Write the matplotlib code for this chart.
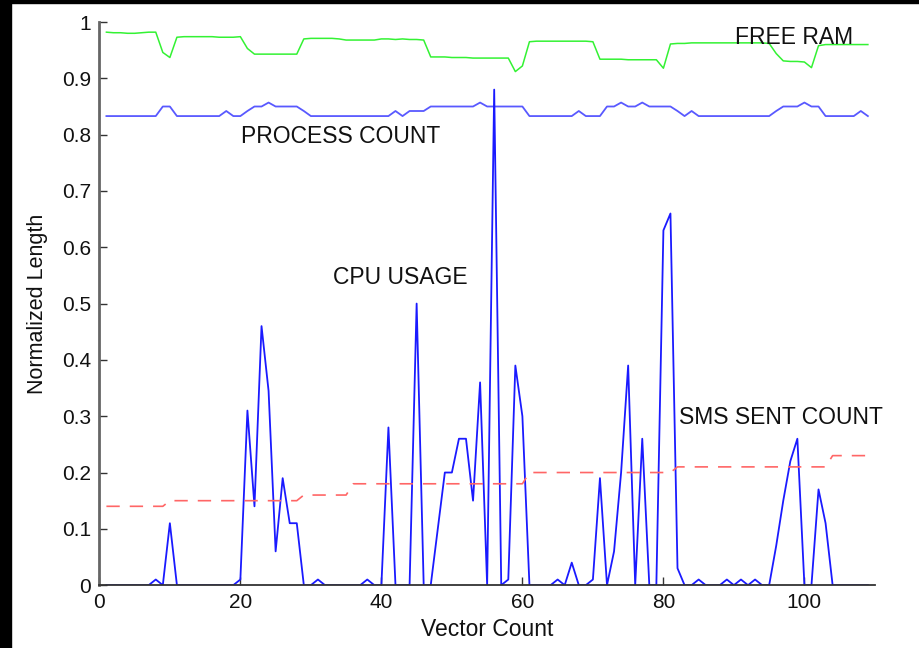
import matplotlib
matplotlib.use("Agg")
import matplotlib.pyplot as plt
from matplotlib.patches import Rectangle

plt.rcParams['font.family'] = ['Liberation Sans', 'DejaVu Sans']

x = list(range(1, 110))

cpu_usage = [
    0, 0, 0, 0, 0, 0, 0, 0.01, 0, 0.11,          # 1-10
    0, 0, 0, 0, 0, 0, 0, 0, 0, 0.01,             # 11-20
    0.31, 0.14, 0.46, 0.345, 0.06, 0.19, 0.11, 0.11, 0, 0,   # 21-30
    0.01, 0, 0, 0, 0, 0, 0, 0.01, 0, 0,          # 31-40
    0.28, 0, 0, 0, 0.50, 0, 0, 0.10, 0.20, 0.20, # 41-50
    0.26, 0.26, 0.15, 0.36, 0, 0.88, 0, 0.01, 0.39, 0.30,   # 51-60
    0, 0, 0, 0, 0.01, 0, 0.04, 0, 0, 0.01,       # 61-70
    0.19, 0, 0.06, 0.20, 0.39, 0, 0.26, 0, 0, 0.63,          # 71-80
    0.66, 0.03, 0, 0, 0.01, 0, 0, 0, 0.01, 0,    # 81-90
    0.01, 0, 0.01, 0, 0, 0.07, 0.15, 0.22, 0.26, 0,          # 91-100
    0, 0.17, 0.11, 0, 0, 0, 0, 0, 0,             # 101-109
]

process_count = [
    0.833, 0.833, 0.833, 0.833, 0.833, 0.833, 0.833, 0.833, 0.85, 0.85,   # 1-10
    0.833, 0.833, 0.833, 0.833, 0.833, 0.833, 0.833, 0.842, 0.833, 0.833, # 11-20
    0.842, 0.85, 0.85, 0.857, 0.85, 0.85, 0.85, 0.85, 0.842, 0.833,       # 21-30
    0.833, 0.833, 0.833, 0.833, 0.833, 0.833, 0.833, 0.833, 0.833, 0.833, # 31-40
    0.833, 0.842, 0.833, 0.842, 0.842, 0.842, 0.85, 0.85, 0.85, 0.85,     # 41-50
    0.85, 0.85, 0.85, 0.857, 0.85, 0.85, 0.85, 0.85, 0.85, 0.85,          # 51-60
    0.833, 0.833, 0.833, 0.833, 0.833, 0.833, 0.833, 0.842, 0.833, 0.833, # 61-70
    0.833, 0.85, 0.85, 0.857, 0.85, 0.85, 0.857, 0.85, 0.85, 0.85,        # 71-80
    0.85, 0.842, 0.833, 0.842, 0.833, 0.833, 0.833, 0.833, 0.833, 0.833,  # 81-90
    0.833, 0.833, 0.833, 0.833, 0.833, 0.842, 0.85, 0.85, 0.85, 0.857,    # 91-100
    0.85, 0.85, 0.833, 0.833, 0.833, 0.833, 0.833, 0.842, 0.833,          # 101-109
]

free_ram = [
    0.982, 0.981, 0.981, 0.980, 0.980, 0.981, 0.982, 0.982, 0.946, 0.937,  # 1-10
    0.973, 0.974, 0.974, 0.974, 0.974, 0.974, 0.973, 0.973, 0.973, 0.974,  # 11-20
    0.953, 0.943, 0.943, 0.943, 0.943, 0.943, 0.943, 0.943, 0.970, 0.971,  # 21-30
    0.971, 0.971, 0.971, 0.970, 0.968, 0.968, 0.968, 0.968, 0.968, 0.970,  # 31-40
    0.970, 0.969, 0.970, 0.969, 0.969, 0.968, 0.938, 0.938, 0.938, 0.937,  # 41-50
    0.937, 0.937, 0.936, 0.936, 0.936, 0.936, 0.936, 0.936, 0.912, 0.922,  # 51-60
    0.965, 0.966, 0.966, 0.966, 0.966, 0.966, 0.966, 0.966, 0.966, 0.965,  # 61-70
    0.934, 0.934, 0.934, 0.934, 0.933, 0.933, 0.933, 0.933, 0.933, 0.918,  # 71-80
    0.961, 0.962, 0.962, 0.963, 0.963, 0.963, 0.963, 0.963, 0.963, 0.963,  # 81-90
    0.963, 0.963, 0.963, 0.963, 0.962, 0.944, 0.931, 0.930, 0.930, 0.929,  # 91-100
    0.919, 0.958, 0.960, 0.960, 0.960, 0.960, 0.960, 0.960, 0.960,         # 101-109
]

sms_sent_count = (
    [0.14] * 9 +      # 1-9
    [0.15] * 19 +     # 10-28
    [0.16] * 7 +      # 29-35
    [0.18] * 25 +     # 36-60
    [0.20] * 21 +     # 61-81
    [0.21] * 22 +     # 82-103
    [0.23] * 6        # 104-109
)

labels = ["FREE RAM", "PROCESS COUNT", "CPU USAGE", "SMS SENT COUNT"]
label_pos = [(90.1, 0.972), (20.1, 0.797), (33.1, 0.547), (82.2, 0.298)]

fig = plt.figure(figsize=(9.2, 6.48), dpi=100)
ax = fig.add_axes([0.108, 0.097, 0.843, 0.869])

ax.plot(x, free_ram, color=(0.2, 0.95, 0.2), lw=1.1)
ax.plot(x, process_count, color=(0.35, 0.35, 1.0), lw=1.3)
ax.plot(x, cpu_usage, color=(0.1, 0.1, 1.0), lw=1.3)
ax.plot(x, sms_sent_count, color=(1.0, 0.4, 0.4), lw=1.2, dashes=(8, 6))

for t, (tx, ty) in zip(labels, label_pos):
    ax.text(tx, ty, t, fontsize=16.5, ha='left', va='center', color='#111111')

ax.set_xlim(0, 110)
ax.set_ylim(0, 1)
ax.set_xticks([0, 20, 40, 60, 80, 100])
ax.set_yticks([0, 0.1, 0.2, 0.3, 0.4, 0.5, 0.6, 0.7, 0.8, 0.9, 1])
ax.set_yticklabels(['0', '0.1', '0.2', '0.3', '0.4', '0.5', '0.6', '0.7', '0.8', '0.9', '1'])
ax.spines['top'].set_visible(False)
ax.spines['right'].set_visible(False)
ax.spines['left'].set_color('#666666')
ax.spines['left'].set_linewidth(2)
ax.spines['bottom'].set_color('#333333')
ax.spines['bottom'].set_linewidth(1.3)
ax.tick_params(direction='in', length=6, width=1, colors='#333333', labelsize=15,
               labelcolor='#111111', pad=6)
ax.set_xlabel("Vector Count", fontsize=16.5, color='#111111', labelpad=4)
ax.set_ylabel("Normalized Length", fontsize=15.5, color='#111111', labelpad=10)

# dark frame edges of the original screenshot
fig.patches.append(Rectangle((0, 0), 11 / 920, 1, transform=fig.transFigure,
                             color='black', zorder=10))
fig.patches.append(Rectangle((0, 1 - 3 / 648), 1, 3 / 648, transform=fig.transFigure,
                             color='black', zorder=10))

fig.savefig("out.png", dpi=100)
